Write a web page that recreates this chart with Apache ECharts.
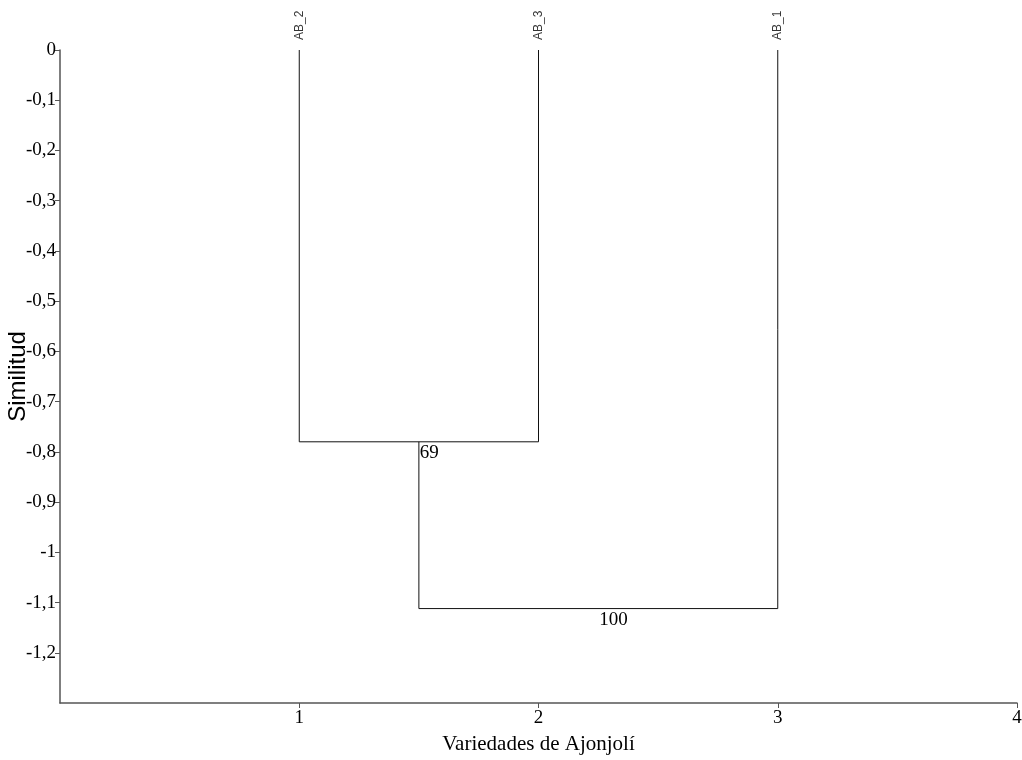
<!DOCTYPE html>
<html>
<head>
<meta charset="utf-8">
<script src="https://cdn.jsdelivr.net/npm/echarts@6/dist/echarts.min.js"></script>
<style>html,body{margin:0;padding:0;background:#fff}#c{width:1022px;height:760px}</style>
</head>
<body>
<div id="c"></div>
<script>
// Leaves (in dendrogram order) and their x positions
var leafNames = ['AB_2', 'AB_3', 'AB_1'];
var leafX = [1, 2, 3];
// Merge heights (similarity) and bootstrap support
var mergeHeights = [-0.78, -1.112];
var supportLabels = ['69', '100'];
// Axis ranges
var yMin = -1.3, yMax = 0, yStep = 0.1;
var xMin = 0, xMax = 4, xStep = 1;
var xTitle = 'Variedades de Ajonjolí';
var yTitle = 'Similitud';

// Build dendrogram paths from the data
var h1 = mergeHeights[0], h2 = mergeHeights[1];
var c1 = (leafX[0] + leafX[1]) / 2;
var path1 = [[leafX[0], 0], [leafX[0], h1], [leafX[1], h1], [leafX[1], 0]];
var path2 = [[c1, h1], [c1, h2], [leafX[2], h2], [leafX[2], 0]];
var leafPts = leafNames.map(function (n, i) { return { value: [leafX[i], 0], name: n }; });
var supportPts = [
  { value: [c1, h1], name: supportLabels[0] },
  { value: [(c1 + leafX[2]) / 2, h2], name: supportLabels[1] }
];

var chart = echarts.init(document.getElementById('c'), null, { renderer: 'canvas' });
var axisColor = '#555';
chart.setOption({
  animation: false,
  backgroundColor: '#fff',
  grid: { left: 60, right: 5, top: 50, bottom: 57, containLabel: false, outerBoundsMode: 'none' },
  xAxis: {
    type: 'value', min: xMin, max: xMax, interval: xStep,
    name: xTitle, nameLocation: 'middle', nameGap: 31, nameMoveOverlap: false,
    nameTextStyle: { fontFamily: 'Liberation Serif', fontSize: 21, color: '#000' },
    axisLine: { onZero: false, lineStyle: { color: axisColor, width: 1.5 } },
    axisTick: { length: 5, lineStyle: { color: axisColor } },
    axisLabel: { showMinLabel: false, fontFamily: 'Liberation Serif', fontSize: 19, color: '#000', margin: 6 },
    splitLine: { show: false }
  },
  yAxis: {
    type: 'value', min: yMin, max: yMax, interval: yStep,
    name: yTitle, nameLocation: 'middle', nameGap: 30, nameRotate: 90, nameMoveOverlap: false,
    nameTextStyle: { fontFamily: 'Liberation Sans', fontSize: 24, color: '#000', backgroundColor: '#fff', padding: [0, 2, 0, 2] },
    axisLine: { onZero: false, lineStyle: { color: axisColor, width: 1.5 } },
    axisTick: { length: 5, lineStyle: { color: axisColor } },
    axisLabel: {
      showMinLabel: false, fontFamily: 'Liberation Serif', fontSize: 19, color: '#000', margin: 4,
      formatter: function (v) { return String(parseFloat(v.toFixed(1))).replace('.', ','); }
    },
    splitLine: { show: false }
  },
  series: [
    { type: 'line', data: path1, symbol: 'none', lineStyle: { color: '#111', width: 1 }, z: 3 },
    { type: 'line', data: path2, symbol: 'none', lineStyle: { color: '#111', width: 1 }, z: 3 },
    {
      type: 'scatter', data: leafPts, symbolSize: 0.1,
      label: {
        show: true, formatter: '{b}', position: 'top', distance: 10, rotate: 90,
        align: 'left', verticalAlign: 'middle',
        fontFamily: 'Liberation Sans', fontSize: 12, color: '#000'
      }
    },
    {
      type: 'scatter', data: supportPts, symbolSize: 0.1,
      label: {
        show: true, formatter: '{b}', position: [1, 2], align: 'left', verticalAlign: 'top',
        fontFamily: 'Liberation Serif', fontSize: 19, color: '#000', opacity: 1
      }
    }
  ]
});
</script>
</body>
</html>
